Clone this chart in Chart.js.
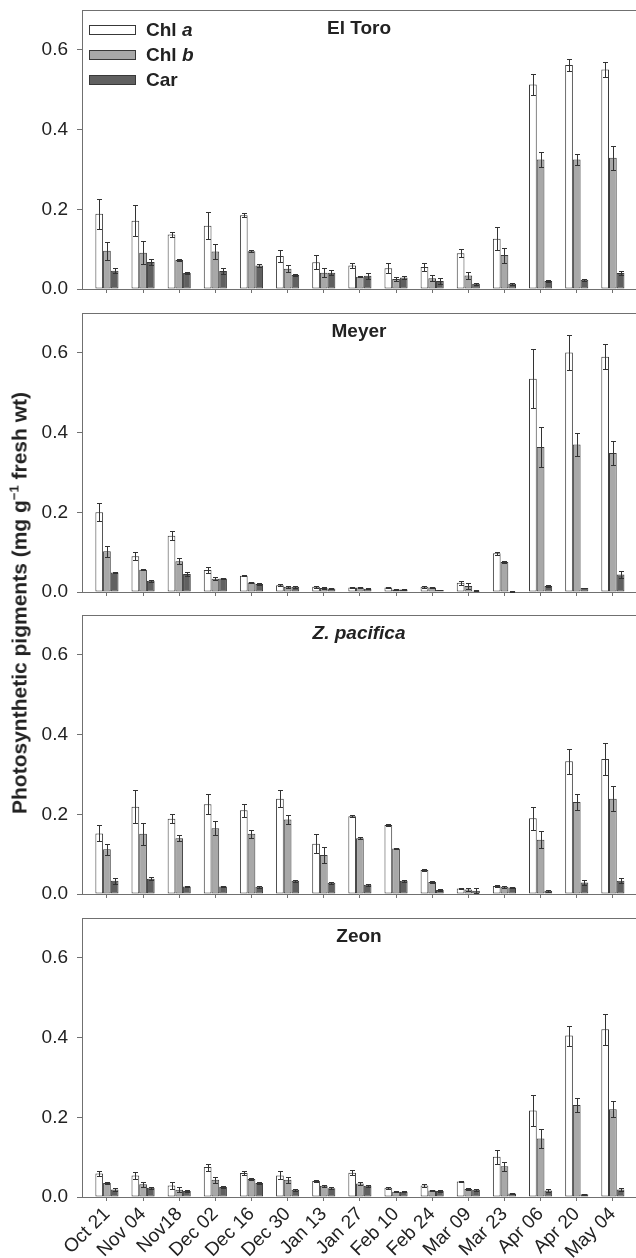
<!DOCTYPE html>
<html><head><meta charset="utf-8">
<script src="https://cdn.jsdelivr.net/npm/chart.js@4/dist/chart.umd.min.js"></script>
<style>
html,body{margin:0;padding:0;background:#fff;}
body{width:636px;height:1258px;position:relative;overflow:hidden;}
canvas{position:absolute;left:0;}
#ytitle{position:absolute;left:21px;top:603px;transform:translate(-50%,-50%) rotate(-90deg);white-space:nowrap;font:bold 21px 'Liberation Sans',Arial,sans-serif;color:#222;line-height:24px;}
#ytitle span{font-size:13px;position:relative;top:-8px;}
</style></head><body>
<canvas id="c0" width="636" height="299" style="top:0px"></canvas>
<canvas id="c1" width="636" height="298" style="top:303px"></canvas>
<canvas id="c2" width="636" height="299" style="top:605px"></canvas>
<canvas id="c3" width="636" height="350" style="top:908px"></canvas>
<div id="ytitle">Photosynthetic pigments (mg g<span>−1</span> fresh wt)</div>
<script>
const dates = ["Oct 21","Nov 04","Nov18","Dec 02","Dec 16","Dec 30","Jan 13","Jan 27","Feb 10","Feb 24","Mar 09","Mar 23","Apr 06","Apr 20","May 04"];
const yTicks = [0, 0.2, 0.4, 0.6];
const seriesNames = ["Chl a", "Chl b", "Car"];
const seriesItalic = ["a", "b", null];
const panelNames = ["El Toro", "Meyer", "Z. pacifica", "Zeon"];

// El Toro
const elToroChlA = [0.189,0.171,0.137,0.159,0.185,0.083,0.067,0.059,0.052,0.055,0.090,0.126,0.513,0.562,0.551];
const elToroChlAErr = [0.038,0.039,0.006,0.033,0.005,0.015,0.018,0.007,0.012,0.009,0.010,0.029,0.026,0.014,0.019];
const elToroChlB = [0.096,0.091,0.073,0.094,0.095,0.051,0.041,0.031,0.025,0.027,0.034,0.085,0.325,0.325,0.329];
const elToroChlBErr = [0.023,0.029,0.002,0.018,0.003,0.008,0.012,0.002,0.006,0.007,0.008,0.019,0.018,0.014,0.031];
const elToroCar = [0.046,0.068,0.040,0.045,0.059,0.035,0.041,0.033,0.029,0.020,0.013,0.013,0.020,0.023,0.040];
const elToroCarErr = [0.006,0.008,0.002,0.007,0.004,0.003,0.007,0.007,0.003,0.007,0.003,0.002,0.003,0.002,0.005];
// Meyer
const meyerChlA = [0.200,0.090,0.141,0.055,0.041,0.017,0.013,0.011,0.011,0.013,0.023,0.097,0.535,0.601,0.590];
const meyerChlAErr = [0.023,0.010,0.011,0.008,0.002,0.002,0.002,0.002,0.002,0.002,0.005,0.004,0.074,0.045,0.031];
const meyerChlB = [0.102,0.056,0.077,0.033,0.024,0.013,0.010,0.011,0.006,0.011,0.015,0.075,0.364,0.370,0.349];
const meyerChlBErr = [0.014,0.002,0.008,0.004,0.002,0.002,0.002,0.002,0.002,0.002,0.008,0.003,0.050,0.028,0.030];
const meyerCar = [0.049,0.028,0.045,0.034,0.020,0.013,0.009,0.008,0.006,0.005,0.003,0.002,0.015,0.010,0.044];
const meyerCarErr = [0.002,0.002,0.005,0.002,0.003,0.002,0.001,0.001,0.001,0.001,0.001,0.001,0.002,0.001,0.008];
// Z. pacifica
const zpacChlA = [0.152,0.219,0.189,0.225,0.210,0.239,0.126,0.195,0.173,0.060,0.014,0.020,0.190,0.333,0.339];
const zpacChlAErr = [0.020,0.041,0.012,0.025,0.017,0.021,0.024,0.003,0.003,0.003,0.002,0.002,0.029,0.031,0.041];
const zpacChlB = [0.112,0.151,0.140,0.165,0.151,0.187,0.098,0.140,0.114,0.030,0.011,0.018,0.136,0.231,0.239];
const zpacChlBErr = [0.013,0.028,0.007,0.018,0.010,0.012,0.019,0.002,0.002,0.002,0.004,0.002,0.021,0.019,0.031];
const zpacCar = [0.033,0.038,0.019,0.019,0.018,0.033,0.028,0.023,0.033,0.010,0.008,0.016,0.008,0.029,0.033];
const zpacCarErr = [0.008,0.004,0.002,0.002,0.002,0.003,0.002,0.002,0.002,0.002,0.006,0.002,0.003,0.006,0.006];
// Zeon
const zeonChlA = [0.059,0.054,0.029,0.075,0.060,0.054,0.040,0.061,0.023,0.029,0.039,0.101,0.217,0.405,0.421];
const zeonChlAErr = [0.007,0.009,0.008,0.009,0.005,0.010,0.003,0.007,0.003,0.004,0.002,0.018,0.040,0.025,0.039];
const zeonChlB = [0.035,0.032,0.018,0.043,0.045,0.043,0.028,0.034,0.013,0.016,0.020,0.077,0.147,0.231,0.220];
const zeonChlBErr = [0.002,0.006,0.006,0.007,0.002,0.008,0.002,0.003,0.001,0.002,0.002,0.012,0.024,0.017,0.020];
const zeonCar = [0.019,0.023,0.015,0.025,0.035,0.018,0.022,0.028,0.013,0.015,0.018,0.009,0.016,0.007,0.019];
const zeonCarErr = [0.003,0.002,0.002,0.002,0.002,0.002,0.002,0.002,0.001,0.002,0.002,0.001,0.003,0.001,0.003];

const panels = [
  {vals:[elToroChlA, elToroChlB, elToroCar], errs:[elToroChlAErr, elToroChlBErr, elToroCarErr]},
  {vals:[meyerChlA, meyerChlB, meyerCar], errs:[meyerChlAErr, meyerChlBErr, meyerCarErr]},
  {vals:[zpacChlA, zpacChlB, zpacCar], errs:[zpacChlAErr, zpacChlBErr, zpacCarErr]},
  {vals:[zeonChlA, zeonChlB, zeonCar], errs:[zeonChlAErr, zeonChlBErr, zeonCarErr]}
];

const FONT = "'Liberation Sans', Arial, Helvetica, sans-serif";
Chart.defaults.font.family = FONT;
Chart.defaults.font.size = 19;
Chart.defaults.color = '#222';
const FILLS = ['#ffffff', '#a8a8a8', '#606060'];
const EDGE = '#383838';
const AXIS = '#707070';

const errorBars = {
  id: 'errorBars',
  afterDatasetsDraw(chart) {
    const ctx = chart.ctx, ys = chart.scales.y;
    ctx.save();
    ctx.strokeStyle = '#333';
    ctx.lineWidth = 1;
    chart.data.datasets.forEach((ds, di) => {
      const meta = chart.getDatasetMeta(di);
      meta.data.forEach((bar, i) => {
        const v = ds.data[i].y, e = ds.err[i];
        const yt = Math.round(ys.getPixelForValue(v + e)) + 0.5;
        const yb = Math.round(ys.getPixelForValue(Math.max(0, v - e))) + 0.5;
        const cx = Math.round(bar.x) + 0.5, hw = 2.5;
        ctx.beginPath();
        ctx.moveTo(cx, yt); ctx.lineTo(cx, yb);
        ctx.moveTo(cx - hw, yt); ctx.lineTo(cx + hw, yt);
        ctx.moveTo(cx - hw, yb); ctx.lineTo(cx + hw, yb);
        ctx.stroke();
      });
    });
    ctx.restore();
  }
};

const frameTop = {
  id: 'frameTop',
  afterDraw(chart) {
    const ctx = chart.ctx, a = chart.chartArea;
    ctx.save();
    ctx.strokeStyle = AXIS; ctx.lineWidth = 1;
    ctx.beginPath();
    ctx.moveTo(a.left, Math.round(a.top) + 0.5);
    ctx.lineTo(a.right, Math.round(a.top) + 0.5);
    ctx.stroke();
    ctx.restore();
  }
};

const panelTitle = {
  id: 'panelTitle',
  afterDraw(chart, args, opts) {
    const ctx = chart.ctx, a = chart.chartArea;
    ctx.save();
    ctx.fillStyle = '#222';
    ctx.font = (opts.italic ? 'italic ' : '') + 'bold 19px ' + FONT;
    ctx.textAlign = 'center';
    ctx.textBaseline = 'alphabetic';
    ctx.fillText(opts.text, (a.left + a.right) / 2, a.top + 24);
    ctx.restore();
  }
};

const boxLegend = {
  id: 'boxLegend',
  afterDraw(chart, args, opts) {
    if (!opts.show) return;
    const ctx = chart.ctx, a = chart.chartArea;
    ctx.save();
    chart.data.datasets.forEach((ds, k) => {
      const cy = a.top + 19 + 25 * k;
      const bx = a.left + 7.5, by = Math.round(cy - 4.5) + 0.5;
      ctx.fillStyle = ds.backgroundColor;
      ctx.fillRect(bx, by, 46, 9);
      ctx.strokeStyle = ds.borderColor; ctx.lineWidth = 1;
      ctx.strokeRect(bx, by, 46, 9);
      ctx.fillStyle = '#222';
      ctx.textAlign = 'left'; ctx.textBaseline = 'alphabetic';
      const name = seriesNames[k], it = seriesItalic[k];
      let tx = a.left + 64;
      const base = cy + 7;
      if (it) {
        const plain = name.slice(0, name.length - it.length);
        ctx.font = 'bold 19px ' + FONT;
        ctx.fillText(plain, tx, base);
        tx += ctx.measureText(plain).width;
        ctx.font = 'italic bold 19px ' + FONT;
        ctx.fillText(it, tx, base);
      } else {
        ctx.font = 'bold 19px ' + FONT;
        ctx.fillText(name, tx, base);
      }
    });
    ctx.restore();
  }
};

function makeChart(idx) {
  const p = panels[idx];
  const bottom = idx === 3;
  const canvas = document.getElementById('c' + idx);
  const xh = canvas.height - 10 - 279;
  return new Chart(canvas, {
    type: 'bar',
    data: {
      datasets: seriesNames.map((name, k) => ({
        label: name,
        data: p.vals[k].map((v, i) => ({x: i, y: v})),
        err: p.errs[k],
        backgroundColor: FILLS[k],
        borderColor: EDGE,
        borderWidth: 1,
        borderSkipped: false,
        categoryPercentage: 0.64,
        barPercentage: 1.0
      }))
    },
    options: {
      responsive: false,
      animation: false,
      devicePixelRatio: 1,
      layout: {padding: {top: 10, left: 0, right: 0, bottom: 0}},
      plugins: {
        legend: {display: false},
        tooltip: {enabled: false},
        panelTitle: {text: panelNames[idx], italic: idx === 2},
        boxLegend: {show: idx === 0}
      },
      scales: {
        x: {
          type: 'linear', min: -0.69, max: 14.64, offset: false,
          grid: {display: true, drawOnChartArea: false, drawTicks: true, tickLength: 4, offset: false, color: AXIS},
          border: {display: true, color: AXIS, width: 1},
          afterBuildTicks: s => { s.ticks = dates.map((_, i) => ({value: i})); },
          afterFit: s => { s.height = xh; s.paddingLeft = 0; s.paddingRight = 0; },
          ticks: {display: bottom, autoSkip: false, minRotation: 45, maxRotation: 45, padding: 2,
                  color: '#222', font: {size: 19}, callback: v => dates[v] ?? ''}
        },
        y: {
          min: 0, max: 0.7,
          afterBuildTicks: s => { s.ticks = yTicks.map(v => ({value: v})); },
          afterFit: s => { s.width = 82; s.paddingTop = 0; s.paddingBottom = 0; },
          grid: {display: true, drawOnChartArea: false, drawTicks: true, tickLength: 5, color: AXIS},
          border: {display: true, color: AXIS, width: 1},
          ticks: {padding: 9, color: '#222', font: {size: 19}, callback: v => Number(v).toFixed(1)}
        }
      }
    },
    plugins: [errorBars, frameTop, panelTitle, boxLegend]
  });
}
[0, 1, 2, 3].forEach(makeChart);
</script>
</body></html>
